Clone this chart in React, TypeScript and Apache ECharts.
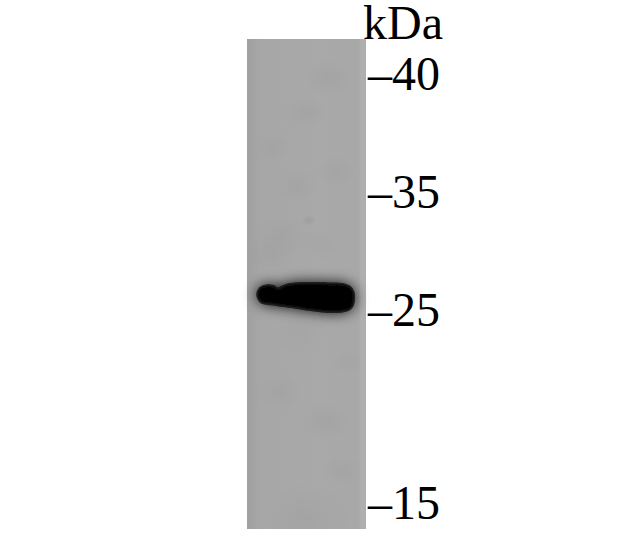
import React, { useEffect, useRef } from "react";
import * as echarts from "echarts";

// Marker ladder: kDa and migration distance (% of lane height)
const markerKda = [40, 35, 25, 15];
const markerMigration = [7.1, 31.2, 55.2, 94.5];

// Band outline: lane position (%), upper and lower edge (migration %)
const bandX = [9, 11, 16, 22, 26, 29, 34, 40, 50, 60, 70, 80, 86, 89, 89.5, 87, 80, 70, 60, 50, 40, 30, 22, 15, 11];
const bandEdge = [52.2, 50.9, 50.4, 50.5, 51.0, 50.7, 50.2, 50.0, 49.9, 49.9, 50.0, 50.1, 50.6, 51.6, 53.2, 54.9, 55.5, 55.6, 55.4, 55.1, 54.7, 54.4, 54.1, 53.9, 53.4];

// Faint background blotches: lane position (%), migration (%), radius, darkness
const blotchX = [50, 68, 22, 42, 75, 30, 52, 20, 62, 84, 28, 66, 44, 80, 50];
const blotchY = [15, 8, 22, 30, 27, 40, 37, 44, 42, 66, 72, 78, 60, 88, 98];
const blotchR = [18, 22, 16, 20, 18, 24, 6, 22, 18, 14, 20, 22, 24, 18, 40];
const blotchA = [0.03, 0.03, 0.025, 0.025, 0.025, 0.025, 0.07, 0.025, 0.02, 0.025, 0.025, 0.03, 0.02, 0.025, 0.03];

const FONT = "'Liberation Serif', 'Times New Roman', serif";

export default function App() {
  const ref = useRef<HTMLDivElement>(null);
  useEffect(() => {
    document.body.style.margin = "0";
    document.body.style.background = "#fff";
    const chart = echarts.init(ref.current!, null, { renderer: "svg" });
    chart.setOption({
      animation: false,
      backgroundColor: "#ffffff",
      title: {
        text: "kDa",
        left: 363,
        top: -1,
        padding: 0,
        textStyle: { fontFamily: FONT, fontSize: 48, lineHeight: 46, fontWeight: "normal", color: "#000" },
      },
      grid: { left: 247, top: 39, width: 119, height: 490 },
      xAxis: { type: "value", min: 0, max: 100, show: false },
      yAxis: {
        type: "value",
        min: 0,
        max: 100,
        inverse: true,
        position: "right",
        splitLine: { show: false },
        axisLine: { show: false },
        axisTick: { show: false },
        axisLabel: {
          show: true,
          customValues: markerMigration,
          margin: 2,
          fontFamily: FONT,
          fontSize: 48,
          color: "#000",
          formatter: (v: number) => "\u2013" + markerKda[markerMigration.indexOf(v)],
        },
      },
      series: [
        {
          type: "custom",
          coordinateSystem: "cartesian2d",
          silent: true,
          z: 1,
          data: [[0, 0, 100, 100]],
          encode: { x: [0, 2], y: [1, 3] },
          clip: true,
          renderItem: (_p: any, api: any) => {
            const a = api.coord([api.value(0), api.value(1)]);
            const b = api.coord([api.value(2), api.value(3)]);
            return {
              type: "rect",
              shape: { x: a[0], y: a[1], width: b[0] - a[0], height: b[1] - a[1] },
              style: {
                fill: new echarts.graphic.LinearGradient(0, 0, 1, 0, [
                  { offset: 0, color: "#a0a0a0" },
                  { offset: 0.12, color: "#a7a7a7" },
                  { offset: 0.6, color: "#a9a9a9" },
                  { offset: 0.94, color: "#a8a8a8" },
                  { offset: 0.96, color: "#b0b0b0" },
                  { offset: 1, color: "#aeaeae" },
                ]),
              },
            };
          },
        },
        {
          type: "custom",
          coordinateSystem: "cartesian2d",
          silent: true,
          z: 2,
          clip: true,
          data: blotchX.map((x, i) => [x, blotchY[i], blotchR[i], blotchA[i]]),
          encode: { x: 0, y: 1 },
          renderItem: (_p: any, api: any) => {
            const c = api.coord([api.value(0), api.value(1)]);
            const r = (api.value(2) * 119) / 100;
            return {
              type: "ellipse",
              shape: { cx: c[0], cy: c[1], rx: r, ry: r * 0.8 },
              style: {
                fill: new echarts.graphic.RadialGradient(0.5, 0.5, 0.5, [
                  { offset: 0, color: `rgba(0,0,0,${api.value(3)})` },
                  { offset: 1, color: "rgba(0,0,0,0)" },
                ]),
              },
            };
          },
        },
        {
          type: "custom",
          coordinateSystem: "cartesian2d",
          silent: true,
          z: 3,
          data: bandX.map((x, i) => [x, bandEdge[i]]),
          encode: { x: 0, y: 1 },
          renderItem: (p: any, api: any) => {
            if (p.dataIndex !== 0) return null;
            const pts = bandX.map((x, i) => api.coord([x, bandEdge[i]]));
            return {
              type: "polygon",
              shape: { points: pts, smooth: 0.5 },
              style: {
                fill: "#050505",
                stroke: "rgba(10,10,10,0.8)",
                lineWidth: 3,
                shadowBlur: 14,
                shadowColor: "rgba(0,0,0,0.95)",
              },
            };
          },
        },
      ],
    });
    return () => chart.dispose();
  }, []);
  return <div ref={ref} style={{ width: 617, height: 533 }} />;
}
